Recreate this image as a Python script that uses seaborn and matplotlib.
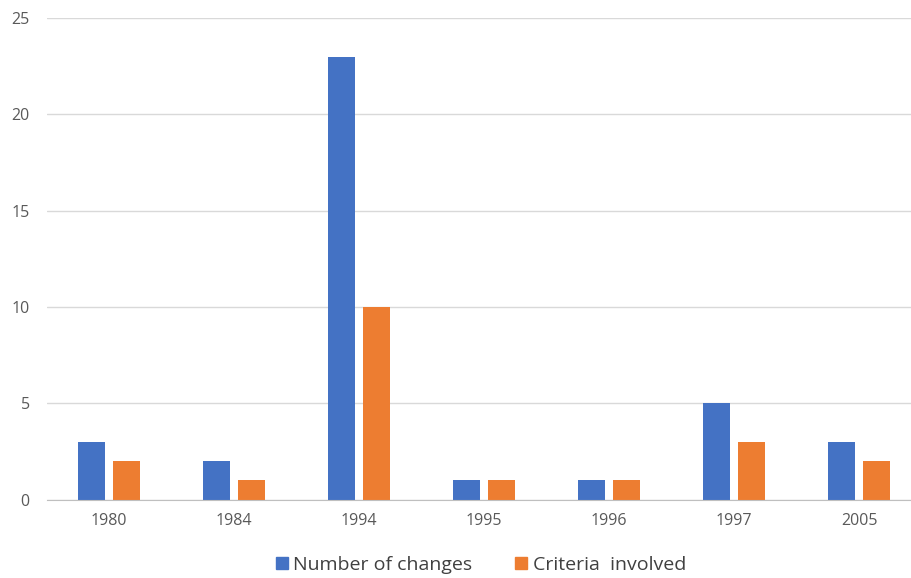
import pandas as pd
import seaborn as sns
import matplotlib.pyplot as plt
from matplotlib.patches import Patch

years = ["1980", "1984", "1994", "1995", "1996", "1997", "2005"]
changes = [3, 2, 23, 1, 1, 5, 3]
criteria = [2, 1, 10, 1, 1, 3, 2]
series = ["Number of changes", "Criteria  involved"]
colors = ["#4472C4", "#ED7D31"]

df = pd.DataFrame({
    "Year": years * 2,
    "Value": changes + criteria,
    "Series": [series[0]] * len(years) + [series[1]] * len(years),
})

sns.set_style("white")
plt.rcParams["font.family"] = ["Open Sans", "DejaVu Sans"]

fig = plt.figure(figsize=(9.11, 5.78), dpi=100)
ax = fig.add_axes([46.5 / 911, 1 - 499.5 / 578, 1 - 46.5 / 911, (499.5 - 18) / 578])

sns.barplot(data=df, x="Year", y="Value", hue="Series", palette=colors,
            width=0.56, gap=0.21, ax=ax, legend=False, saturation=1, linewidth=0)

ax.set_xlim(-0.5, -0.5 + 864.5 / 125)
ax.set_ylim(0, 25)
ax.set_yticks([0, 5, 10, 15, 20, 25])
ax.yaxis.grid(True, color="#D9D9D9", linewidth=1)
ax.set_axisbelow(True)
ax.set_xlabel("")
ax.set_ylabel("")
sns.despine(ax=ax, left=True, right=True, top=True)
ax.spines["bottom"].set_color("#BFBFBF")
ax.tick_params(axis="y", length=0, pad=12, labelsize=11.5, labelcolor="#595959")
ax.tick_params(axis="x", length=0, pad=10, labelsize=11.5, labelcolor="#595959")

handles = [Patch(facecolor=c, edgecolor=c) for c in colors]
fig.legend(handles, series, loc="center", bbox_to_anchor=(481 / 911, 1 - 565 / 578),
           ncol=2, frameon=False, fontsize=14, handlelength=0.6, handleheight=0.6,
           handletextpad=0.3, columnspacing=2.2, labelcolor="#404040")

fig.savefig("out.png", dpi=100)
